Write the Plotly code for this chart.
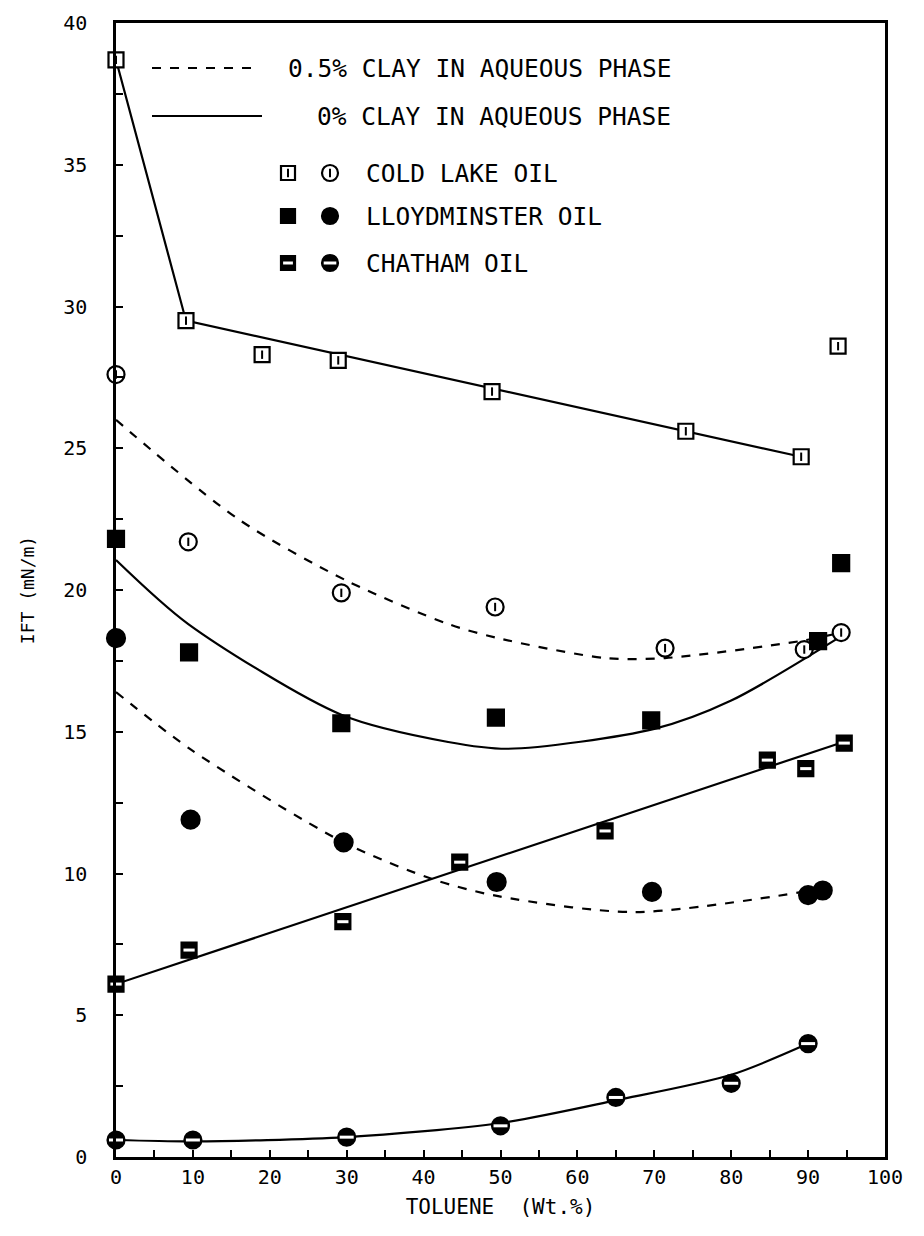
import plotly.graph_objects as go

# ---------------- data ----------------
toluene_cl0 = [0, 9.1, 19.0, 28.9, 48.9, 74.1, 89.1, 93.9]
ift_cl0 = [38.7, 29.5, 28.3, 28.1, 27.0, 25.6, 24.7, 28.6]
toluene_cl5 = [0, 9.4, 29.3, 49.3, 71.4, 89.5, 94.3]
ift_cl5 = [27.6, 21.7, 19.9, 19.4, 17.95, 17.9, 18.5]

toluene_ll0 = [0, 9.5, 29.3, 49.4, 69.6, 91.3, 94.3]
ift_ll0 = [21.8, 17.8, 15.3, 15.5, 15.4, 18.2, 20.95]
toluene_ll5 = [0, 9.7, 29.6, 49.5, 69.7, 90.0, 91.9]
ift_ll5 = [18.3, 11.9, 11.1, 9.7, 9.35, 9.24, 9.4]

toluene_ch0 = [0, 9.5, 29.5, 44.7, 63.6, 84.7, 89.7, 94.7]
ift_ch0 = [6.1, 7.3, 8.3, 10.4, 11.5, 14.0, 13.7, 14.6]
toluene_ch5 = [0, 10.0, 30.0, 50.0, 65.0, 80.0, 90.0]
ift_ch5 = [0.6, 0.6, 0.7, 1.1, 2.1, 2.6, 4.0]

# fitted curves
curve_cl0_x = [0, 9.1, 89.1]
curve_cl0_y = [38.7, 29.5, 24.7]
curve_cl5_x = [0, 15.9, 30.2, 43.2, 49.7, 63.6, 71.4, 89.0, 94.3]
curve_cl5_y = [26.0, 22.5, 20.3, 18.8, 18.3, 17.6, 17.6, 18.2, 18.5]
curve_ll0_x = [0, 9.4, 29.3, 43.2, 51.0, 70.0, 80.0, 93.9]
curve_ll0_y = [21.06, 18.8, 15.6, 14.64, 14.4, 15.1, 16.1, 18.3]
curve_ll5_x = [0, 9.8, 29.6, 41.5, 49.7, 67.4, 89.3]
curve_ll5_y = [16.4, 14.36, 11.1, 9.77, 9.2, 8.64, 9.35]
curve_ch0_x = [0, 94.7]
curve_ch0_y = [6.1, 14.65]
curve_ch5_x = [0, 10, 30, 50, 65, 80, 90]
curve_ch5_y = [0.6, 0.55, 0.7, 1.2, 2.0, 2.9, 4.0]

x_ticks = list(range(0, 101, 10))
y_ticks = list(range(0, 41, 5))

legend_rows = ["0.5% CLAY IN AQUEOUS PHASE", "0% CLAY IN AQUEOUS PHASE",
               "COLD LAKE OIL", "LLOYDMINSTER OIL", "CHATHAM OIL"]

FONT = "DejaVu Sans Mono"
K = "black"

fig = go.Figure()

def curve(x, y, dash, shape="spline"):
    fig.add_trace(go.Scatter(x=x, y=y, mode="lines",
                             line=dict(color=K, width=2.2, dash=dash, shape=shape,
                                       smoothing=0.8 if shape == "spline" else None),
                             showlegend=False, hoverinfo="skip", cliponaxis=False))

curve(curve_cl0_x, curve_cl0_y, "solid", "linear")
curve(curve_cl5_x, curve_cl5_y, "dash")
curve(curve_ll0_x, curve_ll0_y, "solid")
curve(curve_ll5_x, curve_ll5_y, "dash")
curve(curve_ch0_x, curve_ch0_y, "solid", "linear")
curve(curve_ch5_x, curve_ch5_y, "solid")

def markers(x, y, sym, size=15, fill="white", xa="x", ya="y"):
    fig.add_trace(go.Scatter(x=x, y=y, mode="markers", xaxis=xa, yaxis=ya,
                             marker=dict(symbol=sym, size=size, color=fill,
                                         line=dict(color=K, width=2.2)),
                             showlegend=False, hoverinfo="skip", cliponaxis=False))

def tick(x, y, xa="x", ya="y"):
    fig.add_trace(go.Scatter(x=x, y=y, mode="markers", xaxis=xa, yaxis=ya,
                             marker=dict(symbol="line-ns", size=6, line=dict(color=K, width=2)),
                             showlegend=False, hoverinfo="skip", cliponaxis=False))

def half(x, y, sym, size=16, xa="x", ya="y"):
    markers(x, y, sym, size, K, xa, ya)
    fig.add_trace(go.Scatter(x=x, y=y, mode="markers", xaxis=xa, yaxis=ya,
                             marker=dict(symbol="line-ew", size=size - 7, line=dict(color="white", width=3)),
                             showlegend=False, hoverinfo="skip", cliponaxis=False))

# data markers
markers(toluene_cl0, ift_cl0, "square", 15)
tick(toluene_cl0, ift_cl0)
markers(toluene_cl5, ift_cl5, "circle", 17)
tick(toluene_cl5, ift_cl5)
markers(toluene_ll0, ift_ll0, "square", 16, K)
markers(toluene_ll5, ift_ll5, "circle", 18, K)
half(toluene_ch0, ift_ch0, "square", 15)
half(toluene_ch5, ift_ch5, "circle", 17)

# legend glyphs on a pixel-scaled overlay axis
leg_sq_x = [288]
leg_ci_x = [330]
leg_rows_y = [68, 116, 173, 216, 263]
markers(leg_sq_x, [leg_rows_y[2]], "square", 14, "white", "x2", "y2")
tick(leg_sq_x, [leg_rows_y[2]], "x2", "y2")
markers(leg_ci_x, [leg_rows_y[2]], "circle", 16, "white", "x2", "y2")
tick(leg_ci_x, [leg_rows_y[2]], "x2", "y2")
markers(leg_sq_x, [leg_rows_y[3]], "square", 14, K, "x2", "y2")
markers(leg_ci_x, [leg_rows_y[3]], "circle", 16, K, "x2", "y2")
half(leg_sq_x, [leg_rows_y[4]], "square", 14, "x2", "y2")
half(leg_ci_x, [leg_rows_y[4]], "circle", 16, "x2", "y2")
fig.add_trace(go.Scatter(x=[152, 258], y=[leg_rows_y[0]] * 2, mode="lines", xaxis="x2", yaxis="y2",
                         line=dict(color=K, width=2, dash="dash"), showlegend=False, hoverinfo="skip"))
fig.add_trace(go.Scatter(x=[152, 262], y=[leg_rows_y[1]] * 2, mode="lines", xaxis="x2", yaxis="y2",
                         line=dict(color=K, width=2.2), showlegend=False, hoverinfo="skip"))

annotations = [
    dict(x=286, y=leg_rows_y[0], text=legend_rows[0]),
    dict(x=315, y=leg_rows_y[1], text=legend_rows[1]),
    dict(x=364, y=leg_rows_y[2], text=legend_rows[2]),
    dict(x=364, y=leg_rows_y[3], text=legend_rows[3]),
    dict(x=364, y=leg_rows_y[4], text=legend_rows[4]),
]
for a in annotations:
    a.update(xref="x2", yref="y2", xanchor="left", yanchor="middle", showarrow=False,
             font=dict(family=FONT, size=24.5, color=K))
fig.update_layout(annotations=annotations)

axis_common = dict(showline=True, linewidth=2.5, linecolor=K, mirror=True, showgrid=False,
                   zeroline=False, ticks="inside", ticklen=7, tickwidth=2, tickcolor=K,
                   tickfont=dict(family=FONT, size=20, color=K))

fig.update_layout(
    width=924, height=1236,
    margin=dict(l=116, r=39, t=23, b=79),
    paper_bgcolor="white", plot_bgcolor="white",
    xaxis=dict(range=[0, 100], tickvals=x_ticks, ticktext=[str(v) for v in x_ticks],
               minor=dict(dtick=5, ticks="inside", ticklen=7, tickwidth=2, tickcolor=K),
               title=dict(text="TOLUENE  (Wt.%)", font=dict(family=FONT, size=21, color=K), standoff=12),
               **axis_common),
    yaxis=dict(range=[0, 40], tickvals=y_ticks, ticktext=[str(v) for v in y_ticks],
               minor=dict(dtick=2.5, ticks="inside", ticklen=7, tickwidth=2, tickcolor=K),
               ticklabelstandoff=22,
               title=dict(text="IFT (mN/m)", font=dict(family=FONT, size=18, color=K), standoff=24),
               **axis_common),
    xaxis2=dict(range=[116, 885], overlaying="x", visible=False, fixedrange=True),
    yaxis2=dict(range=[1157, 23], overlaying="y", visible=False, fixedrange=True),
    showlegend=False,
)

fig.write_html("out.html")
